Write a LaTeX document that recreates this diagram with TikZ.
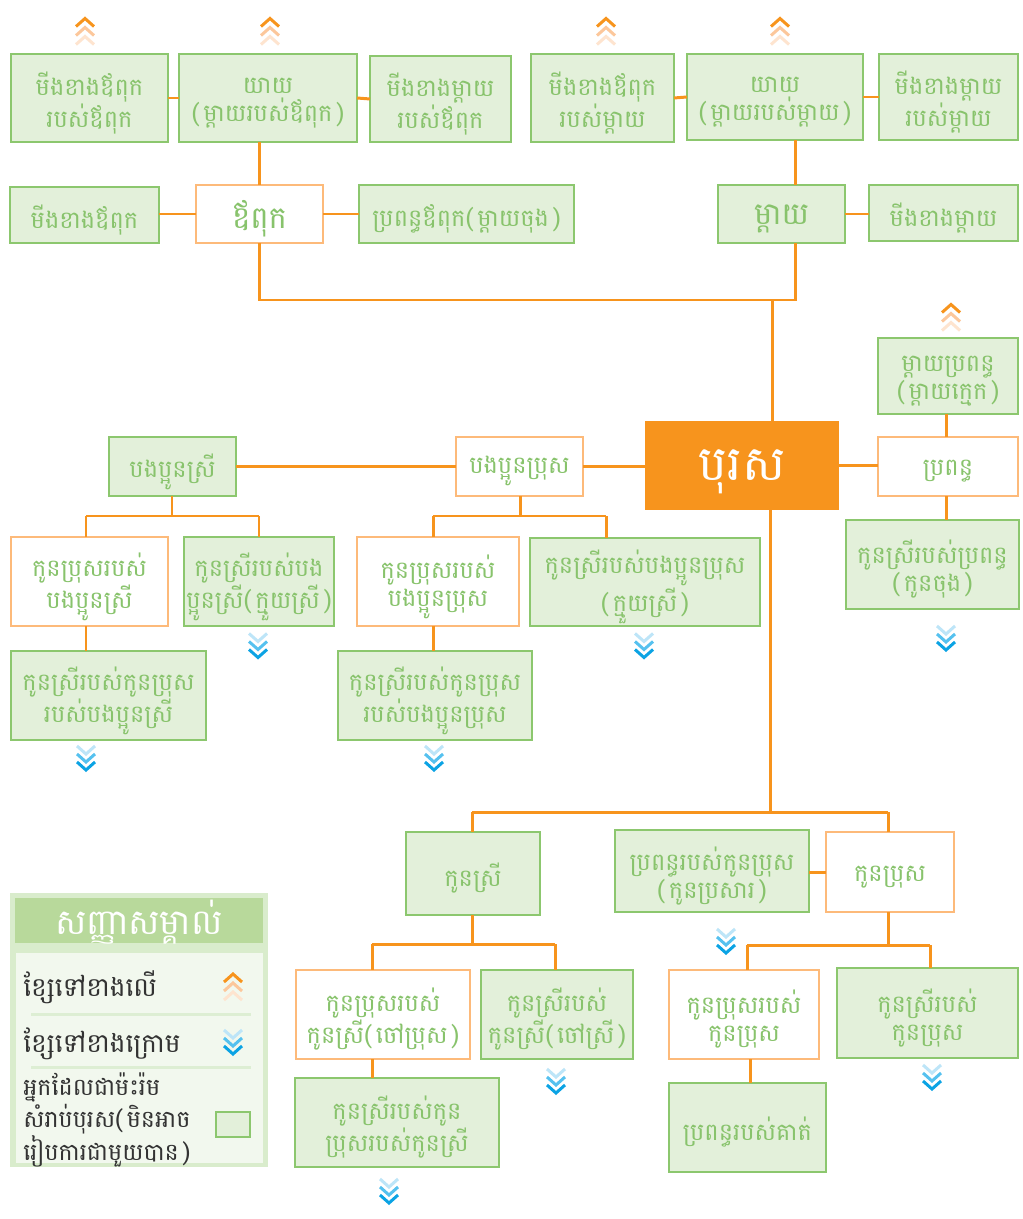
\documentclass[tikz,border=0pt]{standalone}
\usepackage{fontspec}
\newfontfamily\kh[Script=Khmer]{Battambang}
\definecolor{gborder}{HTML}{8CC76E}
\definecolor{gfill}{HTML}{E3F0DA}
\definecolor{gtext}{HTML}{88C36C}
\definecolor{oborder}{HTML}{FDBA7A}
\definecolor{conn}{HTML}{F7941D}
\definecolor{upA}{HTML}{F7941D}
\definecolor{upB}{HTML}{FCC79B}
\definecolor{upC}{HTML}{FEE4CF}
\definecolor{dnA}{HTML}{BDE5F8}
\definecolor{dnB}{HTML}{55C1EF}
\definecolor{dnC}{HTML}{0BA3E4}
\definecolor{lgouter}{HTML}{D9ECCC}
\definecolor{lghead}{HTML}{B8D99B}
\definecolor{lgbody}{HTML}{F2F8EE}
\definecolor{lgsep}{HTML}{DDEED3}
\definecolor{lgtext}{HTML}{333333}
\newcommand\bx[7]{%
  \pgfmathsetmacro\bw{(#5-#3)*0.02}%
  \pgfmathsetmacro\bh{(#6-#4)*0.02}%
  \node[#1, minimum width=\bw cm, minimum height=\bh cm] (#2) at ({(#3+#5)/2},{(#4+#6)/2}) {};
  \node[#1 txt] (#2-t) at (#2.center) {#7};}
\newcommand\chvup[2]{\foreach \c/\o in {upA/0,upB/9,upC/18}{\draw[chev,draw=\c] (#1-9,#2+\o+8) -- (#1,#2+\o) -- (#1+9,#2+\o+8);}}
\newcommand\chvdn[2]{\foreach \c/\o in {dnA/0,dnB/8,dnC/16}{\draw[chev,draw=\c] (#1-9,#2+\o) -- (#1,#2+\o+8) -- (#1+9,#2+\o);}}
\newcommand\lp{(\,}
\newcommand\rp{\,)}
\begin{document}
\begin{tikzpicture}[x=0.02cm,y=-0.02cm,
  gbox/.style={draw=gborder, fill=gfill, line width=1.6pt, inner sep=0pt, outer sep=0pt},
  obox/.style={gbox, draw=oborder, fill=white},
  cbox/.style={fill=conn, draw=none, inner sep=0pt, outer sep=0pt},
  gbox txt/.style={inner sep=0pt, yshift=-2.8pt, align=center, text=gtext, font=\kh\fontsize{13.7}{16}\selectfont},
  obox txt/.style={gbox txt},
  cbox txt/.style={inner sep=0pt, yshift=-3.8pt, text=white, font=\kh\fontsize{27.5}{30}\selectfont},
  big/.style={font=\kh\fontsize{17.5}{20}\selectfont},
  con/.style={draw=conn, line width=1.7pt},
  chev/.style={line width=1.7pt, miter limit=4},
  lgtxt/.style={anchor=west, inner sep=0pt, text=lgtext, font=\kh\fontsize{15}{16}\selectfont, align=left}]
\useasboundingbox[fill=white] (0,0) rectangle (1023,1219);
% boxes
\bx{gbox}{A1}{11}{54}{168}{142}{មីងខាងឪពុក\\របស់ឪពុក}
\bx{gbox}{A2}{179}{54}{357}{142}{យាយ\\\lp ម្តាយរបស់ឪពុក\rp}
\bx{gbox}{A3}{370}{56}{511}{142}{មីងខាងម្តាយ\\របស់ឪពុក}
\bx{gbox}{A4}{531}{54}{674}{142}{មីងខាងឪពុក\\របស់ម្តាយ}
\bx{gbox}{A5}{687}{54}{863}{140}{យាយ\\\lp ម្តាយរបស់ម្តាយ\rp}
\bx{gbox}{A6}{879}{54}{1018}{140}{មីងខាងម្តាយ\\របស់ម្តាយ}
\bx{gbox}{B1}{10}{187}{159}{243}{មីងខាងឪពុក}
\bx{obox}{B2}{196}{185}{323}{243}{\fontsize{17.5}{20}\selectfont ឪពុក}
\bx{gbox}{B3}{359}{185}{574}{243}{ប្រពន្ធឪពុក\lp ម្តាយចុង\rp}
\bx{gbox}{B4}{718}{185}{845}{243}{\fontsize{17.5}{20}\selectfont ម្តាយ}
\bx{gbox}{B5}{869}{185}{1018}{241}{មីងខាងម្តាយ}
\bx{cbox}{C}{645}{421}{839}{510}{បុរស}
\bx{gbox}{C1}{878}{338}{1018}{414}{ម្តាយប្រពន្ធ\\\lp ម្តាយក្មេក\rp}
\bx{obox}{C2}{878}{437}{1018}{496}{ប្រពន្ធ}
\bx{gbox}{C3}{846}{520}{1019}{609}{កូនស្រីរបស់ប្រពន្ធ\\\lp កូនចុង\rp}
\bx{obox}{D1}{456}{437}{583}{496}{បងប្អូនប្រុស}
\bx{gbox}{D2}{109}{437}{236}{496}{បងប្អូនស្រី}
\bx{obox}{E1}{11}{537}{168}{626}{កូនប្រុសរបស់\\បងប្អូនស្រី}
\bx{gbox}{E2}{184}{537}{334}{626}{កូនស្រីរបស់បង\\ប្អូនស្រី\lp ក្មួយស្រី\rp}
\bx{gbox}{E3}{11}{651}{206}{740}{កូនស្រីរបស់កូនប្រុស\\របស់បងប្អូនស្រី}
\bx{obox}{E4}{357}{537}{519}{626}{កូនប្រុសរបស់\\បងប្អូនប្រុស}
\bx{gbox}{E5}{530}{538}{760}{626}{កូនស្រីរបស់បងប្អូនប្រុស\\\lp ក្មួយស្រី\rp}
\bx{gbox}{E6}{338}{651}{532}{740}{កូនស្រីរបស់កូនប្រុស\\របស់បងប្អូនប្រុស}
\bx{gbox}{F1}{406}{832}{540}{915}{កូនស្រី}
\bx{gbox}{F2}{615}{830}{809}{912}{ប្រពន្ធរបស់កូនប្រុស\\\lp កូនប្រសារ\rp}
\bx{obox}{F3}{826}{832}{954}{912}{កូនប្រុស}
\bx{obox}{G1}{296}{970}{470}{1059}{កូនប្រុសរបស់\\កូនស្រី\lp ចៅប្រុស\rp}
\bx{gbox}{G2}{481}{970}{633}{1059}{កូនស្រីរបស់\\កូនស្រី\lp ចៅស្រី\rp}
\bx{gbox}{G3}{295}{1078}{499}{1167}{កូនស្រីរបស់កូន\\ប្រុសរបស់កូនស្រី}
\bx{obox}{G4}{669}{970}{819}{1059}{កូនប្រុសរបស់\\កូនប្រុស}
\bx{gbox}{G5}{837}{968}{1018}{1058}{កូនស្រីរបស់\\កូនប្រុស}
\bx{gbox}{G6}{669}{1083}{826}{1172}{ប្រពន្ធរបស់គាត់}
% connectors
\draw[con] (A1.east) -- (A2.west);
\draw[con] (A2.east) -- (A3.west);
\draw[con] (A4.east) -- (A5.west);
\draw[con] (A5.east) -- (A6.west);
\draw[con] (A2.south -| B2.north) -- (B2.north);
\draw[con] (A5.south -| 795,0) -- (B4.north -| 795,0);
\draw[con] (B1.east |- B2.west) -- (B2.west);
\draw[con] (B2.east) -- (B3.west);
\draw[con] (B4.east) -- (B5.west |- B4.east);
\coordinate (jtop) at (772,300);
\draw[con] (B2.south) |- (jtop) -- (795,300) -- (B4.south -| 795,0);
\draw[con] (jtop) -- (C.north -| jtop);
\draw[con] (D2.east) -- (D1.west |- D2.east);
\draw[con] (D1.east) -- (C.west |- D1.east);
\draw[con] (C.east) -- (C2.west |- C.east);
\draw[con] (C1.south -| 946,0) -- (C2.north -| 946,0);
\draw[con] (C2.south -| 946,0) -- (C3.north -| 946,0);
\coordinate (jD2) at (172,516);
\draw[con] (D2.south -| jD2) -- (jD2);
\draw[con] (86,516) -- (259,516);
\draw[con] (86,516) -- (E1.north -| 86,0);
\draw[con] (259,516) -- (E2.north -| 259,0);
\draw[con] (E1.south -| 86,0) -- (E3.north -| 86,0);
\coordinate (jD1) at (520,516);
\draw[con] (D1.south -| jD1) -- (jD1);
\draw[con] (433,516) -- (606,516);
\draw[con] (433,516) -- (E4.north -| 433,0);
\draw[con] (606,516) -- (E5.north -| 606,0);
\draw[con] (E4.south -| 433,0) -- (E6.north -| 433,0);
\coordinate (jC) at (770,812);
\draw[con] (C.south -| jC) -- (jC);
\draw[con] (472,812) -- (888,812);
\draw[con] (472,812) -- (F1.north -| 472,0);
\draw[con] (888,812) -- (F3.north -| 888,0);
\draw[con] (F2.east |- F3.west) -- (F3.west);
\coordinate (jF1) at (472,944);
\draw[con] (F1.south -| jF1) -- (jF1);
\draw[con] (372,944) -- (555,944);
\draw[con] (372,944) -- (G1.north -| 372,0);
\draw[con] (555,944) -- (G2.north -| 555,0);
\draw[con] (G1.south -| 372,0) -- (G3.north -| 372,0);
\coordinate (jF3) at (888,945);
\draw[con] (F3.south -| jF3) -- (jF3);
\draw[con] (747,945) -- (930,945);
\draw[con] (747,945) -- (G4.north -| 747,0);
\draw[con] (930,945) -- (G5.north -| 930,0);
\draw[con] (G4.south -| 750,0) -- (G6.north -| 750,0);
% chevrons
\chvup{85}{18.5}
\chvup{270}{18.5}
\chvup{606}{18.5}
\chvup{780}{18.5}
\chvup{951}{304.5}
\chvdn{258}{633.5}
\chvdn{644}{633.5}
\chvdn{86}{746}
\chvdn{434}{746}
\chvdn{946}{626}
\chvdn{726}{929}
\chvdn{556}{1069}
\chvdn{389}{1179}
\chvdn{932}{1065}
% legend
\fill[lgouter] (10,893) rectangle (268,1167);
\fill[lghead] (15,898) rectangle (263,943);
\fill[lgbody] (16,953) rectangle (263,1163);
\node[inner sep=0pt, text=white, font=\kh\fontsize{20}{22}\selectfont] (lgh) at (139,922) {សញ្ញាសម្គាល់};
\draw[lgsep, line width=1.7pt] (31,1014) -- (251,1014);
\draw[lgsep, line width=1.7pt] (31,1067) -- (251,1067);
\node[lgtxt] (lg1) at (23,987) {ខ្សែទៅខាងលើ};
\node[lgtxt] (lg2) at (23,1044) {ខ្សែទៅខាងក្រោម};
\node[lgtxt, font=\kh\fontsize{13.5}{15.9}\selectfont] (lg3) at (23,1120) {អ្នកដែលជាម៉ះរ៉ម\\សំរាប់បុរស\lp មិនអាច\\រៀបការជាមួយបាន\rp};
\chvup{233}{974}
\chvdn{233}{1030}
\draw[draw=gborder, fill=gfill, line width=1.6pt] (216,1112) rectangle (250,1137);
\end{tikzpicture}
\end{document}
